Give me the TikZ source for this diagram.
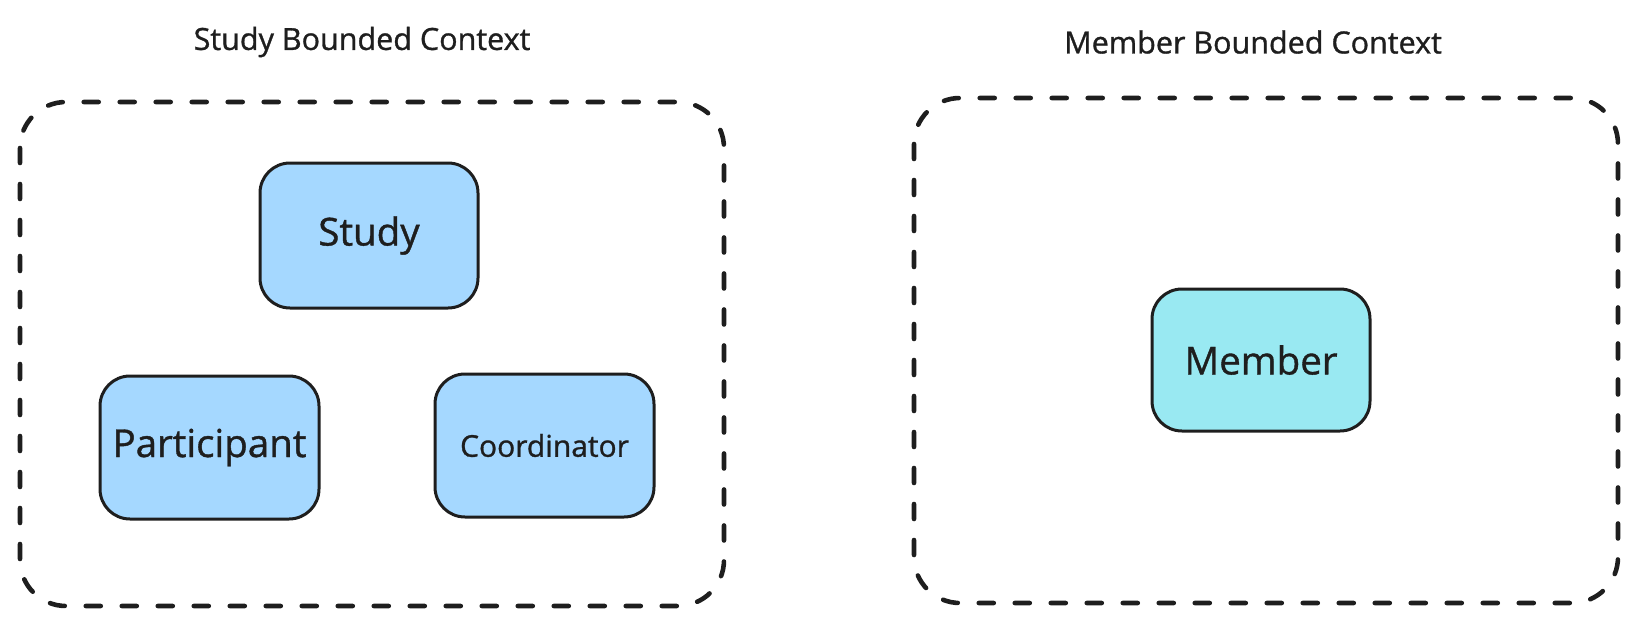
\documentclass[tikz,border=0pt]{standalone}
\usepackage{fontspec}
\setmainfont{Open Sans}
\newfontfamily\medfont{Open Sans}[FakeBold=1]
\definecolor{ink}{HTML}{1E1E1E}
\definecolor{boxblue}{HTML}{A5D8FF}
\definecolor{boxcyan}{HTML}{99E9F2}
\begin{document}
\begin{tikzpicture}[x=1pt,y=-1pt,
  ctxbox/.style={draw=ink, line width=4.6pt, dash pattern=on 15pt off 21pt, line cap=round, rounded corners=46pt},
  entity/.style={draw=ink, line width=3pt, rounded corners=30pt, text=ink, inner sep=0pt},
  ctxtitle/.style={text=ink, font=\medfont\fontsize{30.5}{36}\selectfont},
  bigtxt/.style={font=\medfont\fontsize{38.5}{46}\selectfont},
  smalltxt/.style={font=\medfont\fontsize{30}{36}\selectfont}]
\useasboundingbox (0,0) rectangle (1638,626);
% bounded contexts
\draw[ctxbox] (20,102) rectangle (724,606);
\draw[ctxbox] (914,98) rectangle (1618,603);
\node[ctxtitle] (t1) at (362,42) {Study Bounded Context};
\node[ctxtitle] (t2) at (1253,42) {Member Bounded Context};
% entities
\node[entity, fill=boxblue, bigtxt, minimum width=218pt, minimum height=145pt] (study) at (369,235.5) {Study};
\node[entity, fill=boxblue, bigtxt, minimum width=219pt, minimum height=143pt] (part) at (209.5,447.5) {Participant};
\node[entity, fill=boxblue, smalltxt, minimum width=219pt, minimum height=143pt] (coord) at (544.5,445.5) {Coordinator};
\node[entity, fill=boxcyan, bigtxt, minimum width=218pt, minimum height=142pt] (member) at (1261,360) {Member};
\end{tikzpicture}
\end{document}
